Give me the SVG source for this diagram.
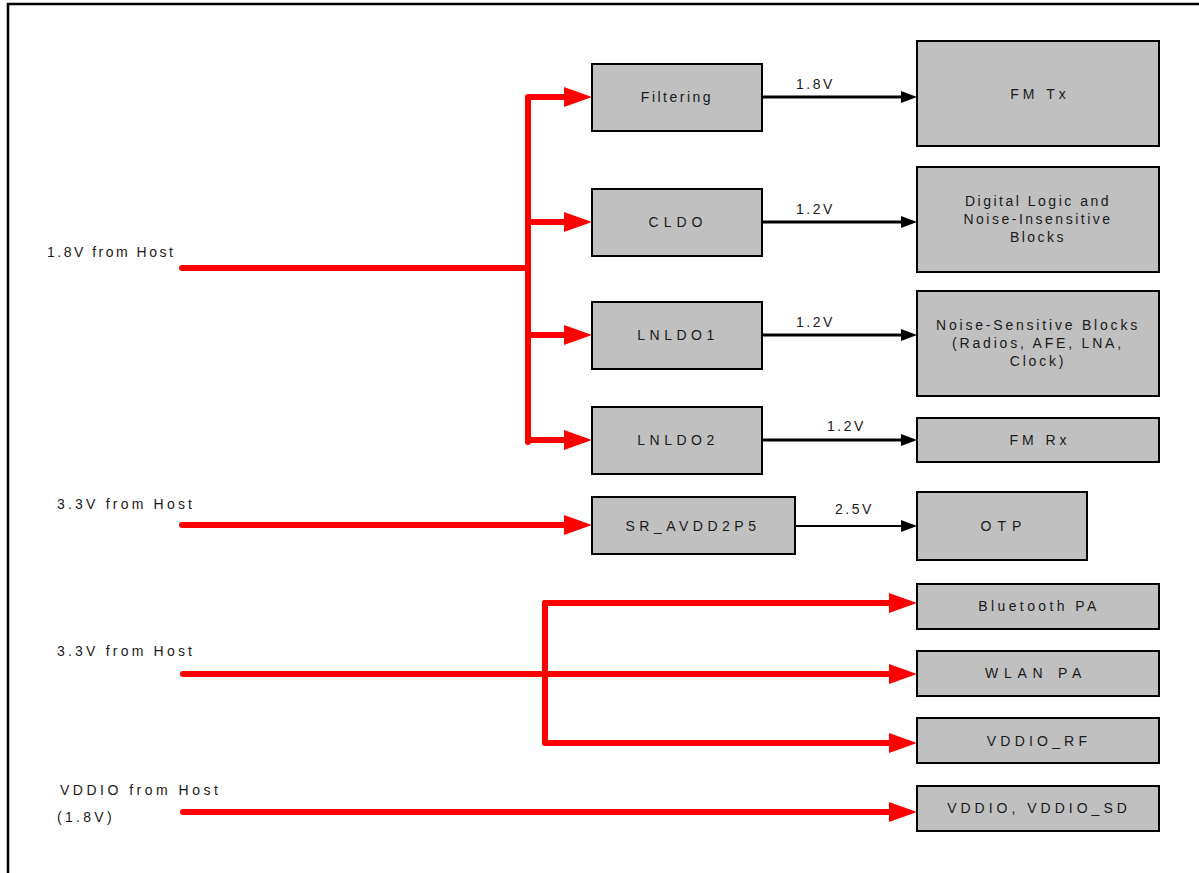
<svg xmlns="http://www.w3.org/2000/svg" width="1199" height="873" viewBox="0 0 1199 873">
<style>
.box{fill:#c0c0c0;stroke:#000;stroke-width:2}
text{font-family:"Liberation Sans",Arial,sans-serif;font-size:14px;fill:#1a1a1a;letter-spacing:2.5px}
.c{text-anchor:middle}
.red{fill:none;stroke:#ff0000;stroke-width:6;stroke-linejoin:round;stroke-linecap:round}
.blk{fill:none;stroke:#000;stroke-width:3}
.blk2{fill:none;stroke:#000;stroke-width:2}
</style>
<defs>
<marker id="ra" markerUnits="userSpaceOnUse" markerWidth="28" markerHeight="22" refX="8" refY="11" orient="auto"><path d="M0,1 L28,11 L0,21 z" fill="#ff0000"/></marker>
<marker id="ba" markerUnits="userSpaceOnUse" markerWidth="16" markerHeight="14" refX="4" refY="7" orient="auto"><path d="M0,1 L16,7 L0,13 z" fill="#000"/></marker>
</defs>
<rect width="1199" height="873" fill="#fff"/>
<path d="M8,873 V4 H1199" fill="none" stroke="#000" stroke-width="2.5"/>

<g id="connectors">
<path class="red" d="M182,268 H528"/>
<path class="red" d="M528,442 V97 H572" marker-end="url(#ra)"/>
<path class="red" d="M528,222 H572" marker-end="url(#ra)"/>
<path class="red" d="M528,335 H572" marker-end="url(#ra)"/>
<path class="red" d="M528,440 H572" marker-end="url(#ra)"/>
<path class="red" d="M182,525 H572" marker-end="url(#ra)"/>
<path class="red" d="M183,674 H897" marker-end="url(#ra)"/>
<path class="red" d="M897,603 H545 V743 H897" marker-end="url(#ra)"/>
<path class="red" d="M545,603 H897" marker-end="url(#ra)"/>
<path class="red" d="M183,812 H897" marker-end="url(#ra)"/>
<path class="blk" d="M762,97 H905" marker-end="url(#ba)"/>
<path class="blk" d="M762,222 H905" marker-end="url(#ba)"/>
<path class="blk" d="M762,335 H905" marker-end="url(#ba)"/>
<path class="blk" d="M762,440 H905" marker-end="url(#ba)"/>
<path class="blk2" d="M795,526 H905" marker-end="url(#ba)"/>
<text x="796" y="89">1.8V</text>
<text x="796" y="214">1.2V</text>
<text x="796" y="327">1.2V</text>
<text x="827" y="431">1.2V</text>
<text x="835" y="514">2.5V</text>
</g>

<g id="labels">
<text x="47" y="257">1.8V from Host</text>
<text x="57" y="509" style="letter-spacing:3.2px">3.3V from Host</text>
<text x="57" y="656" style="letter-spacing:3.2px">3.3V from Host</text>
<text x="60" y="795" style="letter-spacing:3.5px">VDDIO from Host</text>
<text x="57" y="822" style="letter-spacing:3.3px">(1.8V)</text>
</g>

<g id="filtering"><rect class="box" x="592" y="64" width="170" height="67"/><text class="c" x="677" y="102">Filtering</text></g>
<g id="cldo"><rect class="box" x="592" y="189" width="170" height="67"/><text class="c" x="678" y="227" style="letter-spacing:5px">CLDO</text></g>
<g id="lnldo1"><rect class="box" x="592" y="302" width="170" height="67"/><text class="c" x="678" y="340" style="letter-spacing:4.5px">LNLDO1</text></g>
<g id="lnldo2"><rect class="box" x="592" y="407" width="170" height="67"/><text class="c" x="678" y="445" style="letter-spacing:4.5px">LNLDO2</text></g>
<g id="sr_avdd2p5"><rect class="box" x="592" y="497" width="203" height="57"/><text class="c" x="693" y="531" style="letter-spacing:4.5px">SR_AVDD2P5</text></g>

<g id="fmtx"><rect class="box" x="917" y="41" width="242" height="105"/><text class="c" x="1040" y="99" style="letter-spacing:4px">FM Tx</text></g>
<g id="digital"><rect class="box" x="917" y="167" width="242" height="105"/>
<text class="c" x="1038" y="206">Digital Logic and</text>
<text class="c" x="1038" y="224">Noise-Insensitive</text>
<text class="c" x="1038" y="242">Blocks</text></g>
<g id="noisesens"><rect class="box" x="917" y="291" width="242" height="105"/>
<text class="c" x="1038" y="330" style="letter-spacing:2.8px">Noise-Sensitive Blocks</text>
<text class="c" x="1038" y="348" style="letter-spacing:2.8px">(Radios, AFE, LNA,</text>
<text class="c" x="1038" y="366" style="letter-spacing:2.8px">Clock)</text></g>
<g id="fmrx"><rect class="box" x="917" y="418" width="242" height="44"/><text class="c" x="1040" y="445" style="letter-spacing:4px">FM Rx</text></g>
<g id="otp"><rect class="box" x="917" y="492" width="170" height="68"/><text class="c" x="1004" y="531" style="letter-spacing:6px">OTP</text></g>
<g id="btpa"><rect class="box" x="917" y="584" width="242" height="45"/><text class="c" x="1039" y="611" style="letter-spacing:3.4px">Bluetooth PA</text></g>
<g id="wlanpa"><rect class="box" x="917" y="651" width="242" height="45"/><text class="c" x="1036" y="678" style="letter-spacing:5.7px">WLAN PA</text></g>
<g id="vddio_rf"><rect class="box" x="917" y="718" width="242" height="45"/><text class="c" x="1039" y="746" style="letter-spacing:4.2px">VDDIO_RF</text></g>
<g id="vddio_sd"><rect class="box" x="917" y="786" width="242" height="45"/><text class="c" x="1039" y="813" style="letter-spacing:4px">VDDIO, VDDIO_SD</text></g>
</svg>
